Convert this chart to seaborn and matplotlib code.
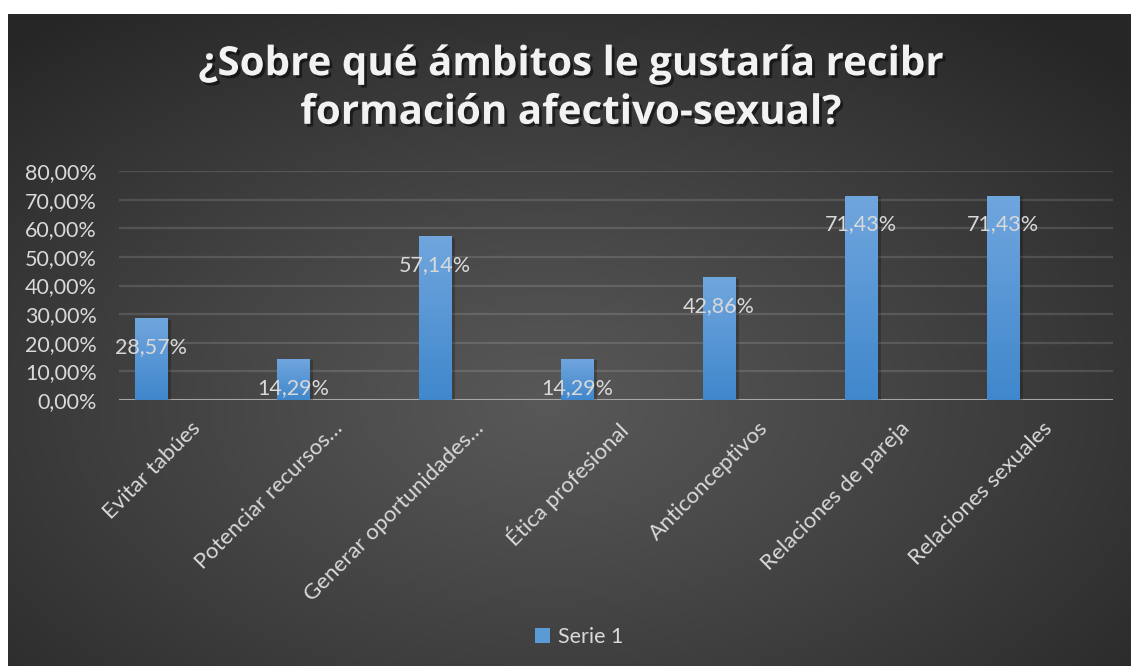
import matplotlib
matplotlib.use('Agg')
import matplotlib.pyplot as plt
import matplotlib.patheffects as pe
from matplotlib.patches import Patch
import seaborn as sns
import pandas as pd
import numpy as np

# datos del gráfico
categorias = ["Evitar tabúes", "Potenciar recursos…", "Generar oportunidades…",
              "Ética profesional", "Anticonceptivos", "Relaciones de pareja",
              "Relaciones sexuales"]
valores = [0.2857, 0.1429, 0.5714, 0.1429, 0.4286, 0.7143, 0.7143]
serie = "Serie 1"
yticks = [0.0, 0.1, 0.2, 0.3, 0.4, 0.5, 0.6, 0.7, 0.8]
titulo = "¿Sobre qué ámbitos le gustaría recibr\nformación afectivo-sexual?"

def pct(v):
    return f"{v * 100:.2f}%".replace('.', ',')

sns.set_style("dark")
plt.rcParams['font.family'] = ['Lato', 'DejaVu Sans']

W, H = 1131, 666
fig = plt.figure(figsize=(W / 100, H / 100), dpi=100)
fig.patch.set_facecolor('white')

# fondo con degradado radial (estilo Excel oscuro)
bg = fig.add_axes([8 / W, 0, 1 - 8 / W, 1 - 14 / H])
yy, xx = np.mgrid[0:1:400j, 0:1:700j]
d = np.sqrt(((xx - 0.48) / 0.72) ** 2 + ((yy - 0.6) / 0.75) ** 2)
d = np.clip(d, 0, 1) ** 1.1
g = 0.345 + (0.15 - 0.345) * d
bg.imshow(np.dstack([g, g, g]), aspect='auto', extent=(0, 1, 0, 1))
bg.set_axis_off()

ax = fig.add_axes([119 / W, 1 - 400 / H, (1113 - 119) / W, (400 - 171) / H])
ax.patch.set_alpha(0)

df = pd.DataFrame({'ambito': categorias, 'porcentaje': valores})
sns.barplot(data=df, x='ambito', y='porcentaje', ax=ax, color='#5b9bd5',
            saturation=1, width=0.227, zorder=3)

grad = np.linspace(0, 1, 100)[:, None]
top = np.array([0.44, 0.65, 0.87])
bot = np.array([0.25, 0.53, 0.80])
grad_img = top + (bot - top) * grad[..., None]
grad_img = np.repeat(grad_img, 2, axis=1)

for p, v in zip(ax.patches, valores):
    p.set_x(p.get_x() - 0.275)
    p.set_edgecolor('none')
    p.set_linewidth(0)
    p.set_facecolor('#4f90cf')
    p.set_path_effects([pe.SimplePatchShadow(offset=(3, -1), shadow_rgbFace='black', alpha=0.22),
                        pe.Normal()])
    x0, w = p.get_x(), p.get_width()
    im = ax.imshow(grad_img, extent=(x0, x0 + w, 0, v), aspect='auto', zorder=4)
    im.set_clip_path(p)
    ax.annotate(pct(v), xy=(x0 + w / 2, v), xytext=(0, -35), textcoords='offset pixels',
                ha='center', va='baseline', color='#d9d9d9', fontsize=15.5, zorder=6)

ax.set_xlim(-0.5, 6.5)
ax.set_ylim(0, 0.8)
ax.set_yticks(yticks)
ax.set_yticklabels([pct(t) for t in yticks])
ax.set_xlabel('')
ax.set_ylabel('')
ax.grid(axis='y', color='white', alpha=0.13, lw=1.6)
ax.grid(axis='x', visible=False)
ax.set_axisbelow(True)
ax.axhline(0, color='#a6a6a6', lw=2.2, zorder=2)
for s in ax.spines.values():
    s.set_visible(False)
ax.tick_params(length=0, labelcolor='#d9d9d9', labelsize=15.5)
ax.tick_params(axis='y', pad=16)
ax.tick_params(axis='x', pad=13, labelsize=16)
plt.setp(ax.get_xticklabels(), rotation=45, ha='right', rotation_mode='anchor')

fig.text(570 / W, 1 - 89 / H, titulo, ha='center', va='center', fontsize=29,
         fontweight='bold', family=['Open Sans', 'DejaVu Sans'], color='#f2f2f2',
         linespacing=1.32,
         path_effects=[pe.withSimplePatchShadow(offset=(2, -2), shadow_rgbFace='black', alpha=0.5)])

fig.legend(handles=[Patch(facecolor='#5b9bd5', edgecolor='none', label=serie)], loc='center',
           bbox_to_anchor=(579 / W, 1 - 637 / H), frameon=False,
           handlelength=0.7, handleheight=0.7, handletextpad=0.35,
           labelcolor='#d9d9d9', fontsize=15.5)

fig.savefig('out.png', dpi=100)
